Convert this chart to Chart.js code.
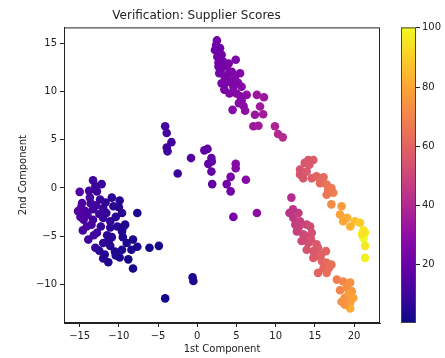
<!DOCTYPE html>
<html lang="en">
<head>
    <meta charset="UTF-8">
    <title>Verification: Supplier Scores</title>
    <script src="https://cdn.jsdelivr.net/npm/chart.js"></script>
    <style>
        html, body { margin: 0; padding: 0; background: #fff; }
        #chart { display: block; }
    </style>
</head>
<body>
    <canvas id="chart" width="445" height="358"></canvas>

    <script>
        // Datos: x, y y puntuación de cada proveedor
        const xs = [
            // grupo izquierdo
            -13.3, -13.0, -15.0, -12.8, -13.7, -12.4, -10.9, -9.9, -14.7, -15.2, -14.3, -13.3, -12.0, -10.7, -9.6,
            -7.65, -14.5, -13.3, -12.0, -11.1, -9.2, -14.1, -11.1, -9.6, -12.8, -13.9, -10.9, -9.5, -8.2, -12.0,
            -13.0, -11.1, -7.65, -6.1, -4.9, -9.6, -8.4, -11.8, -9.9, -8.8, -11.35, -8.2, -0.6, -0.5, -4.1,
            -14.8, -14.0, -13.6, -12.9, -13.5, -12.5, -11.6, -11.5, -10.4, -10.2, -12.3, -14.6, -13.2, -12.5, -10.5,
            -11.3, -9.0, -14.9, -13.8, -12.2, -11.7, -10.0, -9.4, -10.4, -12.0,
            // grupo central
            -4.1, -3.9, -3.3, -3.9, -3.8, -2.5, -0.8, 0.9, 1.3, 1.8, 1.85, 1.4, 1.8, 1.9, 4.9,
            4.9, 4.25, 3.75, 4.25, 6.2, 4.6, 7.6,
            // grupo superior
            2.5, 2.25, 2.9, 2.55, 3.1, 3.3, 2.7, 4.9, 3.75, 4.4, 5.45, 2.8, 3.5, 3.1, 4.2,
            4.6, 5.65, 3.45, 5.0, 6.3, 7.6, 8.5, 5.65, 5.3, 8.0, 6.1, 4.5, 7.35, 8.4, 7.15,
            7.8, 9.9, 10.3, 10.9, 2.4, 2.7, 3.0, 3.9, 4.0, 3.6, 4.8, 5.2, 4.1, 5.9, 5.5, 2.9,
            // grupo inferior derecho
            12.0, 11.75, 12.25, 12.9, 12.5, 13.1, 13.95, 12.7, 13.5, 14.4, 14.6, 13.3, 14.15, 15.2, 13.95,
            14.8, 15.4, 16.4, 15.2, 15.9, 14.8, 16.5, 17.1, 16.1, 15.4, 16.5, 17.8, 18.6, 19.5, 18.2,
            19.05, 19.7, 18.8, 19.9, 19.5, 19.5, 18.8, 12.2, 13.0, 13.8, 14.5, 15.0, 15.8, 16.8, 19.3, 18.4,
            // grupo superior derecho
            13.1, 13.7, 14.15, 14.8, 13.1, 13.95, 13.5, 14.6, 15.2, 16.1, 15.65, 16.5, 17.1, 16.7, 17.35,
            16.5, 17.1, 18.4, 18.2, 19.1, 18.6, 20.1, 20.75, 19.5, 21.4, 21.2, 21.0, 21.4, 21.4,
            14.3, 15.8, 17.0, 21.2
        ];
        const ys = [
            0.8, 0.2, -0.4, -0.35, -1.0, -1.2, -1.0, -1.3, -1.55, -2.4, -2.4, -2.2, -2.1, -1.9, -2.6,
            -2.6, -3.3, -3.3, -3.1, -3.45, -3.8, -4.0, -4.1, -4.5, -4.65, -5.35, -5.1, -5.1, -5.35, -5.7,
            -6.2, -6.0, -6.1, -6.2, -6.0, -6.4, -6.4, -6.9, -7.2, -7.4, -7.7, -8.35, -9.25, -9.65, -11.45,
            -2.0, -2.8, -1.6, -1.8, -3.8, -2.7, -2.6, -4.9, -3.0, -4.0, -4.0, -4.4, -4.9, -6.5, -6.6,
            -5.5, -5.7, -3.0, -0.3, 0.4, -1.5, -2.0, -4.0, -7.0, -7.3,
            6.4, 5.7, 4.75, 4.2, 3.8, 1.5, 3.1, 3.9, 4.05, 3.1, 2.75, 2.5, 1.7, 0.4, 2.5,
            2.05, 1.15, 0.4, -0.35, 0.85, -3.0, -2.6,
            15.3, 14.3, 14.5, 13.6, 13.8, 13.1, 12.6, 13.3, 12.6, 12.05, 11.9, 11.9, 11.5, 10.85, 11.0,
            10.5, 10.5, 10.2, 9.8, 9.65, 9.65, 9.4, 9.1, 8.8, 8.45, 8.0, 8.1, 7.6, 7.65, 6.4,
            6.45, 6.4, 5.6, 5.25, 14.8, 13.0, 12.3, 11.8, 12.9, 10.9, 11.5, 10.9, 9.8, 8.5, 9.5, 13.3,
            -1.0, -2.6, -3.1, -2.6, -3.8, -3.45, -3.8, -4.5, -4.8, -4.0, -4.65, -5.5, -5.7, -5.85, -6.4,
            -6.55, -6.2, -6.55, -7.05, -7.6, -7.25, -7.75, -7.95, -8.3, -8.8, -8.8, -9.5, -9.7, -9.8, -10.6,
            -10.35, -10.7, -11.4, -11.4, -11.9, -12.5, -12.1, -2.2, -4.0, -5.0, -5.3, -6.8, -6.9, -8.3, -11.0, -11.8,
            1.9, 2.6, 2.9, 2.9, 1.4, 1.7, 1.0, 1.0, 1.2, 1.1, 0.5, 0.35, 0.0, -0.2, -0.5,
            -0.7, -1.7, -1.9, -2.75, -3.1, -3.45, -3.45, -3.6, -4.0, -4.65, -5.2, -4.8, -6.0, -7.25,
            2.4, 1.0, -0.3, -4.4
        ];
        const scores = [
            10, 9, 14, 9, 11, 8, 6, 5, 13, 15, 13, 11, 8, 6, 5,
            3, 13, 10, 8, 7, 4, 12, 6, 4, 9, 10, 6, 4, 3, 7,
            8, 5, 3, 2, 2, 3, 3, 5, 3, 2, 4, 2, 3, 3, 1,
            14, 12, 11, 10, 11, 9, 8, 6, 6, 5, 8, 12, 10, 6, 4,
            5, 3, 14, 11, 9, 7, 5, 4, 3, 5,
            11, 11, 10, 10, 10, 9, 14, 17, 17, 18, 18, 17, 18, 17, 27,
            27, 24, 22, 22, 28, 24, 30,
            21, 21, 21, 22, 22, 23, 22, 25, 24, 25, 26, 23, 24, 24, 25,
            26, 27, 24, 27, 30, 33, 34, 28, 28, 34, 30, 27, 33, 35, 34,
            35, 38, 40, 41, 21, 22, 23, 24, 24, 24, 26, 26, 26, 29, 28, 22,
            41, 43, 45, 47, 47, 48, 50, 48, 50, 52, 53, 51, 53, 56, 54,
            56, 57, 60, 58, 60, 57, 62, 64, 61, 60, 63, 68, 71, 74, 70,
            73, 76, 74, 79, 78, 82, 75, 44, 48, 51, 54, 56, 59, 63, 77, 74,
            54, 55, 56, 57, 54, 56, 55, 58, 60, 63, 62, 65, 67, 66, 69,
            66, 72, 77, 79, 82, 80, 86, 89, 83, 97, 100, 96, 96, 98,
            56, 62, 67, 95
        ];

        const xTicks = [-15, -10, -5, 0, 5, 10, 15, 20];
        const yTicks = [-10, -5, 0, 5, 10, 15];
        const cbarTicks = [20, 40, 60, 80, 100];

        // Mapa de colores "plasma"
        const plasma = ['#0d0887', '#41049d', '#6a00a8', '#8f0da4', '#b12a90', '#cc4778',
                        '#e16462', '#f2844b', '#fca636', '#fcce25', '#f0f921'];

        function hexRgb(h) {
            return [parseInt(h.substr(1, 2), 16), parseInt(h.substr(3, 2), 16), parseInt(h.substr(5, 2), 16)];
        }

        function plasmaColor(v) {
            const t = Math.max(0, Math.min(1, v / 100)) * (plasma.length - 1);
            const i = Math.min(Math.floor(t), plasma.length - 2);
            const f = t - i;
            const a = hexRgb(plasma[i]), b = hexRgb(plasma[i + 1]);
            const c = a.map((x, k) => Math.round(x + (b[k] - x) * f));
            return `rgb(${c[0]}, ${c[1]}, ${c[2]})`;
        }

        const puntos = xs.map((x, i) => ({ x: x, y: ys[i] }));
        const colores = scores.map(plasmaColor);

        // Marco completo y barra de color
        const marcoYBarra = {
            id: 'marcoYBarra',
            afterDraw(chart) {
                const ctx = chart.ctx;
                const a = chart.chartArea;
                ctx.save();
                ctx.strokeStyle = '#222';
                ctx.lineWidth = 1;
                ctx.strokeRect(a.left + 0.5, a.top + 0.5, a.right - a.left - 1, a.bottom - a.top - 1);

                const bx = a.right + 21, bw = 15;
                const grad = ctx.createLinearGradient(0, a.bottom, 0, a.top);
                plasma.forEach((c, i) => grad.addColorStop(i / (plasma.length - 1), c));
                ctx.fillStyle = grad;
                ctx.fillRect(bx, a.top, bw, a.bottom - a.top);
                ctx.strokeStyle = '#444';
                ctx.strokeRect(bx + 0.5, a.top + 0.5, bw - 1, a.bottom - a.top - 1);

                ctx.fillStyle = '#222';
                ctx.font = '10px "DejaVu Sans"';
                ctx.textBaseline = 'middle';
                ctx.textAlign = 'left';
                cbarTicks.forEach(t => {
                    const y = Math.round(a.bottom - (t / 100) * (a.bottom - a.top)) + 0.5;
                    ctx.beginPath();
                    ctx.moveTo(bx + bw, y);
                    ctx.lineTo(bx + bw + 4, y);
                    ctx.strokeStyle = '#222';
                    ctx.stroke();
                    ctx.fillText(String(t), bx + bw + 6, y);
                });
                ctx.restore();
            }
        };

        new Chart(document.getElementById('chart'), {
            type: 'scatter',
            data: {
                datasets: [{
                    data: puntos,
                    backgroundColor: colores,
                    borderWidth: 0,
                    pointRadius: 4.3,
                    pointHoverRadius: 4.3
                }]
            },
            options: {
                responsive: false,
                animation: false,
                layout: { padding: { left: 13, right: 65, top: 0, bottom: 0 } },
                plugins: {
                    legend: { display: false },
                    tooltip: { enabled: false },
                    title: {
                        display: true,
                        text: 'Verification: Supplier Scores',
                        color: '#222',
                        font: { family: 'DejaVu Sans', size: 12, weight: 'normal' },
                        padding: { top: 9, bottom: 4 }
                    }
                },
                scales: {
                    x: {
                        type: 'linear',
                        min: -17,
                        max: 23.3,
                        afterBuildTicks: s => { s.ticks = xTicks.map(v => ({ value: v })); },
                        afterFit: s => { s.height = 35; },
                        grid: { drawOnChartArea: false, drawTicks: true, tickLength: 4, color: '#222' },
                        border: { display: true, color: '#222' },
                        ticks: {
                            color: '#222', padding: 3,
                            font: { family: 'DejaVu Sans', size: 10 },
                            callback: v => String(v).replace('-', '\u2212')
                        },
                        title: {
                            display: true, text: '1st Component', color: '#222',
                            font: { family: 'DejaVu Sans', size: 10 },
                            padding: { top: 0, bottom: 3 }
                        }
                    },
                    y: {
                        type: 'linear',
                        min: -14,
                        max: 16.65,
                        afterBuildTicks: s => { s.ticks = yTicks.map(v => ({ value: v })); },
                        afterFit: s => { s.width = 51; },
                        grid: { drawOnChartArea: false, drawTicks: true, tickLength: 4, color: '#222' },
                        border: { display: true, color: '#222' },
                        ticks: {
                            color: '#222', padding: 3,
                            font: { family: 'DejaVu Sans', size: 10 },
                            callback: v => String(v).replace('-', '\u2212')
                        },
                        title: {
                            display: true, text: '2nd Component', color: '#222',
                            font: { family: 'DejaVu Sans', size: 10 },
                            padding: { top: 4, bottom: 4 }
                        }
                    }
                }
            },
            plugins: [marcoYBarra]
        });
    </script>
</body>
</html>
